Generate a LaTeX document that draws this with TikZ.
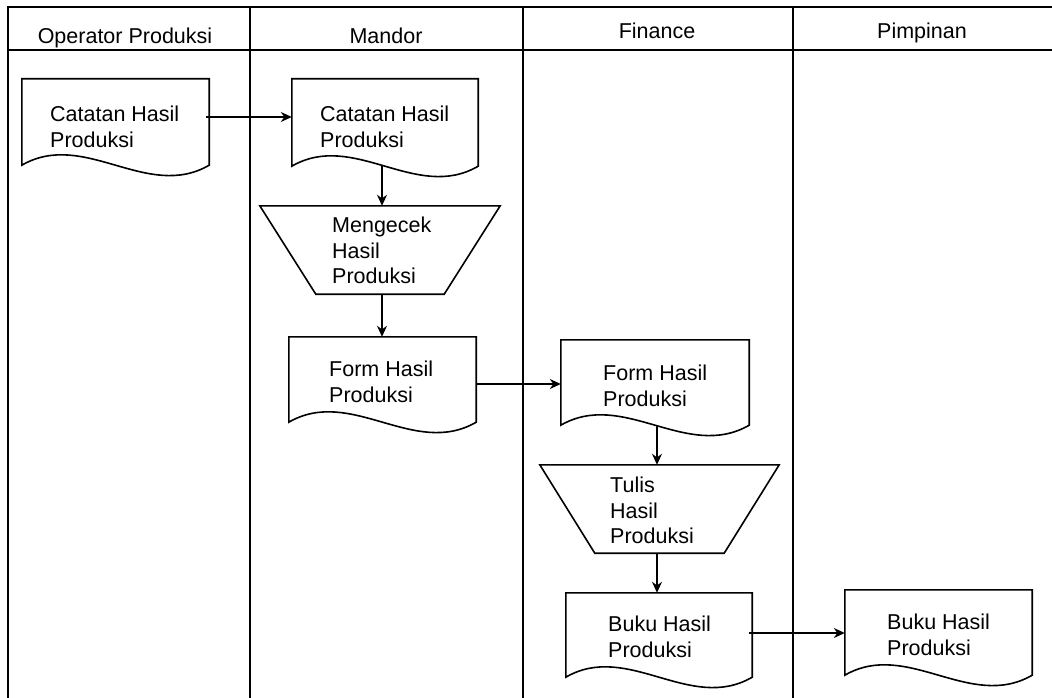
\documentclass[tikz,border=0pt]{standalone}
\usepackage{fontspec}
\setmainfont{Liberation Sans}
\usetikzlibrary{calc,arrows.meta}

\tikzset{
  outline/.style={draw=black, line width=1.6pt, line join=miter},
  lane/.style={draw=black, line width=1.8pt},
  flow/.style={draw=black, line width=1.5pt, -{Stealth[length=11pt,width=10pt]}},
  box/.style={draw=none, rectangle, inner sep=0pt},
  txt/.style={align=left, inner sep=0pt, anchor=north west, font=\fontsize{21.5}{25.5}\selectfont},
  head/.style={inner sep=0pt, anchor=base, font=\fontsize{21.5}{25}\selectfont},
}

% document symbol: flat top, wavy bottom edge
\newcommand\docoutline[1]{%
  \draw[outline] (#1.south west) -- (#1.north west) -- (#1.north east) -- (#1.south east)
    .. controls ($(#1.south west)!0.667!(#1.south east)+(0,36)$)
       and ($(#1.south west)!0.333!(#1.south east)+(0,-36)$) .. (#1.south west) -- cycle;}
% manual operation symbol: trapezoid narrowing downwards
\newcommand\trapoutline[2]{%
  \draw[outline] (#1.north west) -- (#1.north east) -- ([xshift=-#2pt]#1.south east)
    -- ([xshift=#2pt]#1.south west) -- cycle;}

\begin{document}
\begin{tikzpicture}[x=1pt,y=-1pt]
\useasboundingbox (0,0) rectangle (1052,698);

% swimlane frame
\draw[lane] (8,698) -- (8,7) -- (1052,7);
\draw[lane] (8,50) -- (1052,50);
\draw[lane] (250,7) -- (250,698);
\draw[lane] (523,7) -- (523,698);
\draw[lane] (793,7) -- (793,698);

\node[head] (h1) at (125,44) {Operator Produksi};
\node[head] (h2) at (386,44) {Mandor};
\node[head] (h3) at (657,39) {Finance};
\node[head] (h4) at (922,39) {Pimpinan};

% shapes
\node[box, minimum width=187pt, minimum height=86pt] (d1) at (115.5,122) {};
\node[box, minimum width=186pt, minimum height=87pt] (d2) at (385,122.5) {};
\node[box, minimum width=240pt, minimum height=88pt] (t1) at (380,250) {};
\node[box, minimum width=187pt, minimum height=85pt] (d3) at (382.5,379.5) {};
\node[box, minimum width=188pt, minimum height=85pt] (d4) at (655,382.5) {};
\node[box, minimum width=239pt, minimum height=88pt] (t2) at (659.5,509) {};
\node[box, minimum width=186pt, minimum height=84pt] (d5) at (659,635) {};
\node[box, minimum width=187pt, minimum height=85pt] (d6) at (938.5,632.5) {};

\docoutline{d1}
\docoutline{d2}
\trapoutline{t1}{56}
\docoutline{d3}
\docoutline{d4}
\trapoutline{t2}{55}
\docoutline{d5}
\docoutline{d6}

% labels
\node[txt] (l1) at (50,106) {Catatan Hasil\\Produksi};
\node[txt] (l2) at (320,106) {Catatan Hasil\\Produksi};
\node[txt] (l3) at (332,217) {Mengecek\\Hasil\\Produksi};
\node[txt] (l4) at (329,361) {Form Hasil\\Produksi};
\node[txt] (l5) at (603,365) {Form Hasil\\Produksi};
\node[txt] (l6) at (610,477) {Tulis\\Hasil\\Produksi};
\node[txt] (l7) at (608,616) {Buku Hasil\\Produksi};
\node[txt] (l8) at (887,614) {Buku Hasil\\Produksi};

% flow
\coordinate (a12) at ([xshift=-3pt,yshift=5pt]d1.east);
\coordinate (a34) at ([yshift=-4.5pt]d3.east);
\coordinate (a56) at ([xshift=-3pt,yshift=2pt]d5.east);
\draw[flow] (a12) -- (a12 -| d2.west);
\draw[flow] ([xshift=-3pt]d2.south) -- ([xshift=-3pt]d2.south |- t1.north);
\draw[flow] ([xshift=2pt]t1.south) -- ([xshift=2pt]t1.south |- d3.north);
\draw[flow] (a34) -- (a34 -| d4.west);
\draw[flow] ([xshift=2pt]d4.south) -- ([xshift=2pt]d4.south |- t2.north);
\draw[flow] ([xshift=-2.5pt]t2.south) -- ([xshift=-2.5pt]t2.south |- d5.north);
\draw[flow] (a56) -- (a56 -| d6.west);
\end{tikzpicture}
\end{document}
